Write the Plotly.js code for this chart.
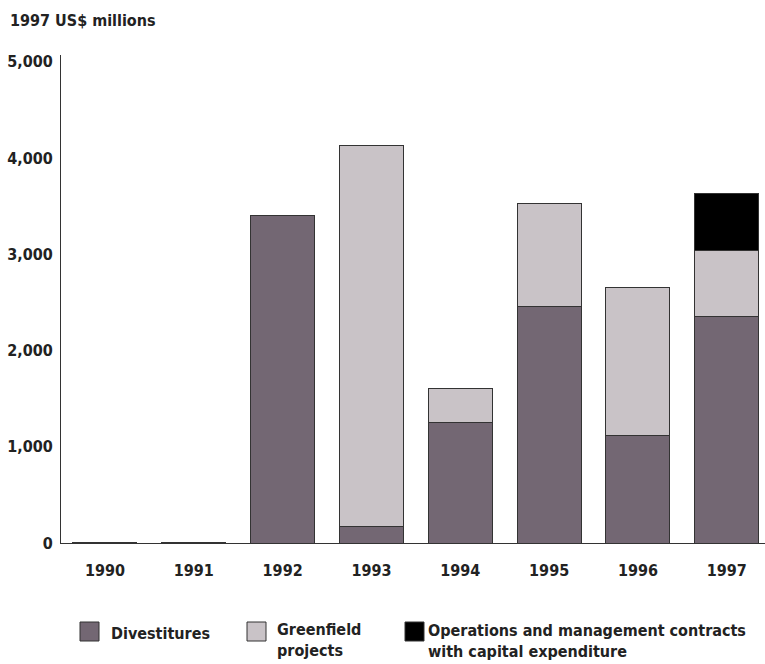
<!DOCTYPE html>
<html>
<head>
<meta charset="utf-8">
<script src="https://cdn.plot.ly/plotly-3.0.1.min.js"></script>
<style>html,body{margin:0;padding:0;background:#fff;}#chart{width:765px;height:664px;}</style>
</head>
<body>
<div id="chart"></div>
<script>
// Data (1997 US$ millions)
var years = ['1990', '1991', '1992', '1993', '1994', '1995', '1996', '1997'];
var divestitures = [8, 8, 3400, 170, 1250, 2460, 1120, 2350];
var greenfield = [null, null, null, 3960, 360, 1070, 1530, 685];
var omContracts = [null, null, null, null, null, null, null, 600];
var yTickVals = [0, 1000, 2000, 3000, 4000, 5000];
var yTickText = ['0', '1,000', '2,000', '3,000', '4,000', '5,000'];

var FONT = '"DejaVu Sans Condensed", "Liberation Sans Narrow", sans-serif';
var FS = 16;
var W = 765, H = 664;
var L = 61, R = 0, T = 55, B = 121;
var pw = W - L - R, ph = H - T - B;
function px(x) { return (x - L) / pw; }
function py(y) { return (H - B - y) / ph; }

var outline = {color: '#333333', width: 1};
var traces = [
  {type: 'bar', name: 'Divestitures', x: years, y: divestitures,
   marker: {color: '#736773', line: outline}, width: 0.72},
  {type: 'bar', name: 'Greenfield projects', x: years, y: greenfield,
   marker: {color: '#c9c3c7', line: outline}, width: 0.72},
  {type: 'bar', name: 'Operations and management contracts with capital expenditure', x: years, y: omContracts,
   marker: {color: '#000000', line: outline}, width: 0.72}
];

var legendItems = [
  {color: '#736773', x: 80, text: 'Divestitures', tx: 109, ty: 622},
  {color: '#c9c3c7', x: 247, text: 'Greenfield<br>projects', tx: 275, ty: 618},
  {color: '#000000', x: 405, text: 'Operations and management contracts<br>with capital expenditure', tx: 426, ty: 619}
];
var shapes = [], annotations = [];
legendItems.forEach(function (it) {
  shapes.push({type: 'rect', xref: 'paper', yref: 'paper',
    x0: px(it.x), x1: px(it.x + 19), y0: py(622), y1: py(641),
    fillcolor: it.color, line: {color: '#333333', width: 1}});
  annotations.push({xref: 'paper', yref: 'paper', x: px(it.tx), y: py(it.ty),
    xanchor: 'left', yanchor: 'top', align: 'left', showarrow: false,
    text: '<b>' + it.text + '</b>', font: {family: FONT, size: FS, color: '#222'}});
});
annotations.push({xref: 'paper', yref: 'paper', x: px(8), y: py(9),
  xanchor: 'left', yanchor: 'top', showarrow: false,
  text: '<b>1997 US$ millions</b>', font: {family: FONT, size: FS, color: '#222'}});

var layout = {
  width: W, height: H,
  margin: {l: L, r: R, t: T, b: B, pad: 0},
  paper_bgcolor: '#fff', plot_bgcolor: '#fff',
  barmode: 'stack', showlegend: false,
  font: {family: FONT, size: FS, color: '#222'},
  xaxis: {type: 'category', range: [-0.495, 7.43], showline: true, linecolor: '#333', linewidth: 1,
    ticks: '', showgrid: false, zeroline: false, fixedrange: true, ticklabelstandoff: 13,
    tickfont: {family: FONT, size: FS, color: '#222', weight: 'bold'}},
  yaxis: {range: [0, 5070], showline: true, linecolor: '#333', linewidth: 1,
    ticks: '', showgrid: false, zeroline: false, tickvals: yTickVals, ticktext: yTickText,
    ticklabelstandoff: 4,
    tickfont: {family: FONT, size: FS, color: '#222', weight: 'bold'}},
  shapes: shapes, annotations: annotations
};
Plotly.newPlot('chart', traces, layout, {displayModeBar: false, staticPlot: true});
</script>
</body>
</html>
